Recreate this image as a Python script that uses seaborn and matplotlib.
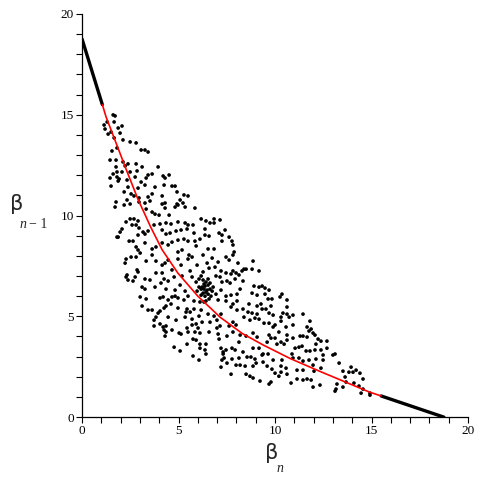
import matplotlib
matplotlib.use("Agg")
import matplotlib.pyplot as plt
import seaborn as sns
from matplotlib.ticker import MultipleLocator

# orbit points (beta_n, beta_{n-1})
beta_n = [
    1.71, 1.66, 1.30, 1.14, 1.19, 1.35, 1.50, 1.87, 2.07, 1.97, 1.66, 2.12, 2.49, 2.80, 1.81, 1.55,
    3.06, 3.26, 3.42, 1.45, 1.76, 2.12, 2.38, 2.80, 1.76, 2.23, 3.11, 3.94, 1.81, 1.61, 2.07, 2.49,
    2.85, 1.45, 1.81, 1.92, 1.87, 2.33, 2.75, 3.32, 3.63, 3.42, 4.20, 4.30, 4.51, 1.50, 2.38, 3.06,
    3.26, 3.78, 4.25, 4.66, 4.82, 2.90, 2.18, 2.54, 2.69, 2.95, 3.42, 3.63, 4.15, 4.92, 5.28, 5.49,
    1.76, 2.33, 2.49, 4.30, 4.15, 5.08, 5.23, 4.92, 1.61,
    1.71, 2.18, 2.95, 3.26, 3.52, 4.30, 4.82, 4.97, 5.34, 5.85, 3.32, 3.63, 3.78, 3.99, 4.51, 2.28,
    2.49, 2.69, 2.90, 2.59, 2.80, 2.95, 2.07, 1.97, 1.87, 2.90, 3.16, 3.26, 3.42, 3.73, 4.04, 4.35,
    4.61, 4.97, 5.34, 5.49, 5.75, 6.17, 6.42, 6.63, 6.84, 6.84, 7.15, 6.37, 4.15, 4.35, 4.56, 4.87,
    5.13, 5.44, 5.80, 6.37, 6.58, 7.10, 2.44, 2.64, 2.80, 2.90, 3.01, 3.26, 3.63, 3.83, 4.15, 4.46,
    4.66, 4.97, 5.28, 5.49, 5.85, 6.11, 5.91, 4.97, 5.18, 5.54, 6.53, 6.84, 2.28, 2.23, 2.54, 2.80,
    3.32, 3.63, 3.83, 4.15, 4.30, 4.46, 4.97, 4.66, 5.13, 5.49, 5.70, 5.96, 6.48, 6.74, 7.05, 6.89,
    2.85, 2.90, 2.28, 2.38, 2.64, 3.26, 3.52, 3.83, 4.15, 4.25, 4.46, 4.77, 5.18, 5.60, 5.70, 3.11,
    3.26, 3.78, 4.09, 4.35, 4.82, 5.08, 5.34, 5.91, 6.17, 3.01, 3.32, 4.20, 4.66, 1.81, 2.33, 2.75,
    6.27, 6.58, 7.20, 6.94, 7.15, 6.94, 7.20, 7.05,
    6.27, 6.17, 6.06, 6.27, 6.42, 6.53, 6.37, 6.22, 6.06, 6.32, 6.48, 6.63, 6.74, 6.42, 6.27, 6.53,
    6.68, 6.37, 6.17, 6.58, 6.42, 6.79, 5.96, 6.32, 6.53, 6.63,
    3.11, 3.42, 3.63, 4.04, 4.46, 4.61, 4.82, 4.97, 5.28, 5.49, 5.80, 6.11, 4.35, 4.25, 4.97, 5.44,
    5.60, 5.39, 5.80, 6.17, 6.32, 4.04, 3.94, 3.83, 3.73, 4.04, 3.73, 4.20, 4.35, 4.46, 4.87, 5.34,
    5.70, 6.06, 6.53, 6.84, 7.20, 6.99, 6.63, 6.22, 5.91, 5.70, 6.01, 5.44, 4.25, 4.35, 4.30, 4.66,
    5.03, 5.13, 5.49, 5.85, 6.11, 6.58, 6.99, 7.15, 7.05, 7.10, 5.75, 5.91, 5.44, 6.11, 6.42, 4.77,
    5.08, 6.11, 6.37, 6.42, 5.75, 6.06, 7.20, 7.31, 7.36, 7.25, 7.20,
    7.41, 7.25, 7.62, 7.77, 7.82, 7.88, 7.82, 7.25, 7.46, 7.62, 8.08, 8.29, 8.39, 8.50, 8.81, 8.86,
    9.17, 7.46, 7.72, 7.82, 7.98, 8.13, 7.25, 7.51, 7.67, 7.93, 8.34, 8.19, 8.91, 9.17, 9.33, 9.48,
    9.69, 10.36, 7.46, 7.72, 8.03, 8.81, 9.07, 9.48, 9.64, 9.84, 7.46, 7.82, 8.03, 8.65, 9.07, 9.27,
    9.79, 10.26, 10.62, 10.62, 7.72, 8.03, 8.34, 8.60, 8.81, 9.07, 9.33, 9.53, 9.69, 9.90, 10.31, 10.41,
    10.62, 10.73, 10.93, 7.62, 7.82, 7.98, 8.39, 8.70, 8.96, 9.17, 9.43, 9.69, 9.90, 10.00, 10.31, 10.57,
    10.93, 7.51, 7.82, 8.19, 8.50, 8.86, 9.07, 9.69, 10.00, 10.20, 10.62, 10.93,
    7.72, 8.50, 8.70, 8.86, 9.22, 9.69, 9.79, 10.20, 10.31, 10.83, 11.14, 7.51, 7.77, 7.98, 8.19, 8.45,
    8.86, 9.02, 9.38, 9.59, 9.84, 10.00, 10.31, 10.57, 10.62, 11.14, 8.13, 8.55, 8.75, 8.96, 9.33, 9.64,
    9.90, 10.36, 10.88, 10.93, 11.24, 7.31, 7.46, 7.77, 7.93, 8.13, 8.34, 8.86, 9.17, 9.38, 9.59, 9.79,
    10.10, 10.31, 10.47, 10.62, 11.04, 11.24,
    11.45, 11.81, 11.66, 11.76, 11.87, 11.97, 12.07, 11.66, 11.30, 11.45, 12.23, 12.12, 12.38, 12.69, 12.69, 12.38,
    11.40, 11.61, 11.81, 12.07, 12.49, 13.00, 13.11, 12.12, 11.76, 11.45, 12.49, 13.32, 12.38, 11.97, 11.45, 12.02,
    11.45, 11.66, 11.87, 11.97, 12.33, 13.52, 13.63, 13.68, 13.83, 13.94, 14.04, 14.20, 14.40, 14.56, 14.09, 13.52,
    13.21, 13.16, 13.11, 14.35, 14.56, 14.46, 14.92, 14.92,
]
beta_prev = [
    14.94, 14.64, 14.64, 14.49, 14.29, 14.04, 14.14, 14.34, 14.44, 14.09, 13.85, 13.75, 13.65, 13.60, 13.35, 13.20,
    13.25, 13.25, 13.15, 12.75, 12.75, 12.66, 12.56, 12.56, 12.41, 12.46, 12.41, 12.41, 12.16, 12.06, 12.16, 12.16,
    12.21, 11.86, 11.91, 11.81, 11.71, 11.76, 11.91, 11.86, 12.06, 12.01, 11.96, 11.86, 12.01, 11.46, 11.41, 11.66,
    11.51, 11.41, 11.51, 11.46, 11.46, 11.36, 11.17, 11.07, 10.97, 10.87, 10.92, 11.07, 10.97, 11.17, 11.02, 10.97,
    10.67, 10.77, 10.57, 10.62, 10.57, 10.77, 10.62, 10.57, 14.99,
    10.42, 10.52, 10.67, 10.62, 10.72, 10.37, 10.42, 10.52, 10.42, 10.37, 10.32, 10.17, 10.07, 10.02, 10.02, 9.68,
    9.83, 9.83, 9.73, 9.53, 9.53, 9.38, 9.33, 9.18, 8.93, 9.03, 9.18, 9.08, 9.23, 9.53, 9.58, 9.63,
    9.58, 9.68, 9.63, 9.53, 9.53, 9.83, 9.73, 9.63, 9.63, 9.83, 9.78, 9.33, 9.28, 9.08, 9.13, 9.23,
    9.28, 9.33, 9.13, 9.03, 8.98, 9.13, 8.73, 8.73, 8.44, 8.29, 8.14, 8.64, 8.34, 8.44, 8.64, 8.54,
    8.68, 8.78, 8.83, 8.73, 8.73, 8.83, 8.49, 8.19, 8.29, 8.04, 8.34, 8.34, 7.84, 7.64, 7.94, 7.94,
    7.74, 8.04, 7.74, 7.54, 7.64, 7.79, 7.84, 7.30, 7.54, 7.84, 7.94, 7.54, 7.64, 7.89, 7.69, 7.44,
    7.30, 7.20, 6.95, 6.80, 6.75, 6.85, 6.80, 7.15, 7.15, 6.85, 6.75, 6.95, 7.00, 7.25, 6.95, 6.45,
    6.35, 6.45, 6.65, 6.35, 6.30, 6.55, 6.25, 6.70, 6.35, 5.96, 5.86, 5.96, 5.96, 8.93, 7.05, 6.95,
    8.04, 7.39, 7.25, 7.00, 6.95, 6.10, 6.30, 5.81,
    7.20, 7.00, 6.85, 6.80, 6.70, 6.55, 6.50, 6.45, 6.45, 6.35, 6.30, 6.35, 6.25, 6.20, 6.15, 6.10,
    6.00, 6.00, 6.05, 5.86, 5.76, 6.45, 6.25, 6.60, 6.85, 6.65,
    5.51, 5.31, 5.31, 5.91, 5.81, 5.61, 6.00, 5.91, 5.81, 6.00, 5.76, 5.71, 5.51, 5.41, 5.41, 5.36,
    5.21, 5.21, 5.36, 5.31, 5.71, 5.26, 5.16, 4.96, 4.81, 4.62, 4.52, 4.47, 4.52, 4.96, 4.81, 4.96,
    4.86, 5.01, 5.11, 5.01, 5.11, 4.81, 4.71, 4.71, 4.62, 4.57, 4.42, 4.42, 4.32, 4.22, 4.02, 4.32,
    4.17, 4.12, 4.22, 4.22, 4.17, 4.22, 4.42, 4.52, 4.12, 3.87, 3.87, 3.82, 3.62, 3.62, 3.62, 3.47,
    3.28, 3.42, 3.33, 3.13, 3.03, 2.83, 3.42, 3.23, 2.93, 2.83, 2.48,
    9.28, 9.03, 8.93, 8.73, 8.54, 8.19, 8.04, 8.73, 7.94, 7.79, 7.64, 7.25, 7.34, 7.34, 7.34, 7.74,
    7.25, 7.15, 7.10, 7.25, 7.15, 7.05, 6.70, 6.75, 6.65, 6.85, 6.75, 6.35, 6.50, 6.45, 6.50, 6.40,
    6.30, 6.10, 6.00, 6.05, 6.10, 6.15, 6.05, 6.10, 5.86, 5.86, 5.76, 5.61, 5.76, 5.61, 5.51, 5.61,
    5.51, 5.96, 5.81, 5.46, 5.46, 5.31, 5.36, 5.21, 5.16, 5.11, 5.36, 5.36, 5.16, 5.06, 4.96, 5.16,
    5.11, 4.96, 5.06, 4.52, 4.71, 4.57, 4.96, 4.81, 4.91, 4.86, 4.66, 4.66, 4.47, 4.57, 4.76, 4.47,
    4.57, 4.02, 4.22, 4.07, 4.02, 4.17, 3.97, 4.07, 3.92, 4.22, 4.07, 3.92,
    2.13, 2.13, 2.03, 1.94, 1.79, 1.64, 1.74, 2.03, 2.23, 1.69, 1.89, 2.68, 2.88, 2.58, 2.58, 2.53,
    2.53, 2.68, 2.73, 2.53, 2.38, 2.18, 2.53, 2.43, 2.13, 2.33, 2.93, 2.98, 2.98, 2.88, 3.08, 3.13,
    2.83, 2.83, 3.13, 2.93, 2.93, 3.13, 3.33, 3.42, 3.33, 3.72, 3.23, 3.42, 3.42, 3.13, 3.72, 3.92,
    3.62, 3.72, 3.62, 3.82, 3.42, 3.47,
    5.11, 4.76, 4.47, 4.27, 4.37, 4.17, 4.07, 3.97, 4.02, 4.02, 3.87, 3.62, 3.77, 3.77, 3.42, 3.33,
    3.52, 3.28, 3.28, 3.33, 3.08, 3.08, 3.13, 2.88, 2.83, 2.78, 2.83, 2.68, 2.43, 2.58, 2.33, 2.28,
    1.84, 1.89, 1.84, 1.49, 1.59, 2.28, 1.99, 1.74, 2.23, 2.48, 2.23, 2.33, 2.18, 1.89, 1.69, 1.49,
    1.64, 1.39, 1.29, 1.54, 1.39, 1.19, 1.19, 1.09,
]

# invariant curve, black ends and red middle
curve_x = [0.0, 0.5, 1.05, 1.24, 1.8, 2.28, 2.9, 3.57, 4.15, 4.96, 6.0,
           7.15, 8.3, 9.4, 10.8, 12.3, 13.5, 14.9, 15.5, 17.2, 18.75]
curve_y = [18.75, 17.2, 15.5, 14.9, 13.5, 12.3, 10.8, 9.4, 8.3, 7.15, 6.0,
           4.96, 4.15, 3.57, 2.9, 2.28, 1.8, 1.24, 1.05, 0.5, 0.0]

sns.set_style("ticks")

fig = plt.figure(figsize=(4.8, 4.8), dpi=100)
ax = fig.add_axes([0.171, 0.131, 0.804, 0.840])

sns.scatterplot(x=beta_n, y=beta_prev, ax=ax, color="black", s=7,
                edgecolor="none", zorder=2)

# black tails
sns.lineplot(x=curve_x[:3], y=curve_y[:3], ax=ax, color="black", lw=2.4,
             sort=False, estimator=None, zorder=3)
sns.lineplot(x=curve_x[-3:], y=curve_y[-3:], ax=ax, color="black", lw=2.4,
             sort=False, estimator=None, zorder=3)
# red middle part
sns.lineplot(x=curve_x[2:-2], y=curve_y[2:-2], ax=ax, color="red", lw=1.2,
             sort=False, estimator=None, zorder=3)

ax.set_xlim(0, 20)
ax.set_ylim(0, 20)
ax.xaxis.set_major_locator(MultipleLocator(5))
ax.xaxis.set_minor_locator(MultipleLocator(1))
ax.yaxis.set_major_locator(MultipleLocator(5))
ax.yaxis.set_minor_locator(MultipleLocator(1))
ax.tick_params(which="both", direction="out", length=4, width=0.8, colors="black",
               labelsize=9.5, pad=2)
for lab in ax.get_xticklabels() + ax.get_yticklabels():
    lab.set_family("Liberation Serif")

sns.despine(ax=ax)
for sp in ["left", "bottom"]:
    ax.spines[sp].set_linewidth(0.9)
    ax.spines[sp].set_color("black")

# axis labels
fig.text(0.567, 0.056, "β", fontsize=15, ha="center", va="center", family="DejaVu Sans")
fig.text(0.584, 0.025, "n", fontsize=10, ha="center", va="center",
         family="Liberation Serif", style="italic")
fig.text(0.035, 0.575, "β", fontsize=15, ha="center", va="center", family="DejaVu Sans")
fig.text(0.048, 0.532, "n", fontsize=10, ha="center", va="center",
         family="Liberation Serif", style="italic")
fig.text(0.061, 0.532, "− 1", fontsize=10, ha="left", va="center",
         family="Liberation Serif")

fig.savefig("out.png", dpi=100)
